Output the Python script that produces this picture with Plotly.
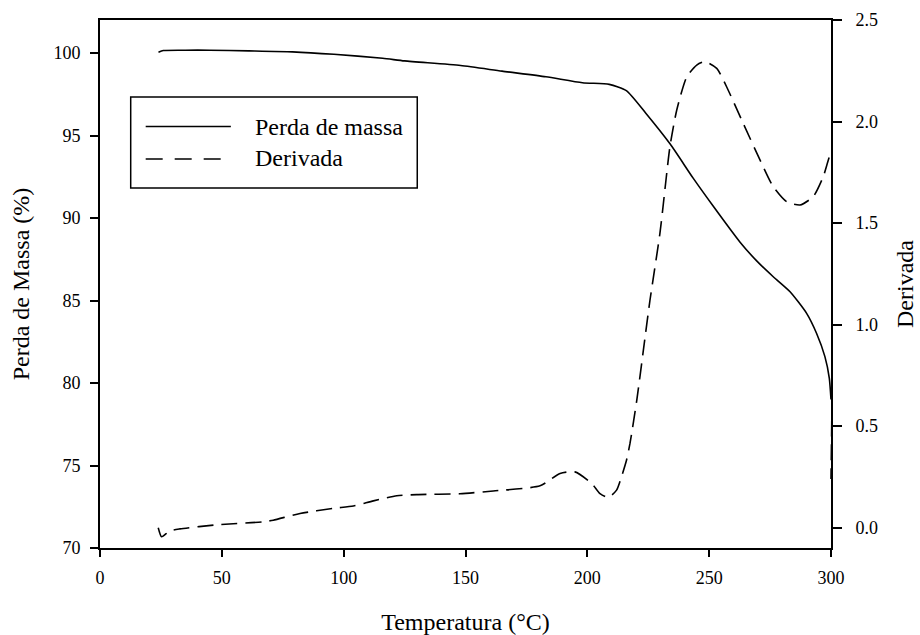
import plotly.graph_objects as go

# Mass loss curve (solid)
temp_mass = [24, 26, 35, 45, 61, 79, 96, 116, 125, 148, 165, 183, 198, 209, 216,
             224, 234, 243.5, 252, 262.6, 269.5, 276.3, 283.2, 290, 294.1, 297.5,
             299.3, 300]
mass = [100.05, 100.15, 100.17, 100.17, 100.13, 100.07, 99.92, 99.68, 99.52, 99.24,
        98.9, 98.56, 98.2, 98.1, 97.72, 96.35, 94.48, 92.4, 90.65, 88.55, 87.4,
        86.44, 85.53, 84.22, 83.0, 81.6, 80.3, 79.0]

# Derivative curve (dashed)
temp_deriv = [23.9, 25.3, 28.6, 32.8, 47.9, 67, 71.1, 82.1, 95.8, 104, 112.2, 121.8,
              130, 147.7, 161.4, 180.6, 188.8, 194.9, 201.8, 205.2, 208.6, 212,
              214, 216.1, 217.5, 220.3, 223, 225.7, 229.8, 233.9, 236.7, 240.8, 244.9,
              248.3, 253.1, 257.2, 264, 270.9, 276.3, 281.8, 287.3, 292.7, 296.8,
              300, 300]
deriv = [0.0, -0.045, -0.016, -0.006, 0.014, 0.029, 0.037, 0.070, 0.095, 0.107, 0.132,
         0.157, 0.163, 0.167, 0.181, 0.206, 0.267, 0.275, 0.218, 0.168, 0.149, 0.185,
         0.25, 0.333, 0.415, 0.628, 0.874, 1.12, 1.45, 1.876, 2.057, 2.22, 2.278,
         2.295, 2.262, 2.17, 1.99, 1.81, 1.679, 1.605, 1.589, 1.63, 1.728, 1.843, 0.24]

x_ticks = [0, 50, 100, 150, 200, 250, 300]
y1_ticks = [70, 75, 80, 85, 90, 95, 100]
y2_ticks = [0.0, 0.5, 1.0, 1.5, 2.0, 2.5]

FONT = "Liberation Serif"

fig = go.Figure()
fig.add_trace(go.Scatter(x=temp_mass, y=mass, mode="lines", name="Perda de massa",
                         line=dict(color="black", width=1.6, shape="spline", smoothing=0.6),
                         showlegend=False))
fig.add_trace(go.Scatter(x=temp_deriv, y=deriv, mode="lines", name="Derivada",
                         yaxis="y2",
                         line=dict(color="black", width=1.6, dash="16px,8px",
                                   shape="spline", smoothing=0.6),
                         showlegend=False))

# Legend drawn as decoration
lx0, lx1, ly0, ly1 = 0.042, 0.434, 0.682, 0.854
fig.add_shape(type="rect", xref="paper", yref="paper", x0=lx0, x1=lx1, y0=ly0, y1=ly1,
              line=dict(color="black", width=1.5), fillcolor="white", layer="above")
fig.add_shape(type="line", xref="paper", yref="paper", x0=0.0625, x1=0.179,
              y0=(548 - 126.5) / 528, y1=(548 - 126.5) / 528,
              line=dict(color="black", width=1.6))
fig.add_shape(type="line", xref="paper", yref="paper", x0=0.0625, x1=0.168,
              y0=(548 - 159) / 528, y1=(548 - 159) / 528,
              line=dict(color="black", width=1.6, dash="17px,12px"))
fig.add_annotation(xref="paper", yref="paper", x=(253 - 100) / 731, y=(548 - 127) / 528,
                   xanchor="left", yanchor="middle", showarrow=False,
                   text="Perda de massa", font=dict(family=FONT, size=24, color="black"))
fig.add_annotation(xref="paper", yref="paper", x=(253 - 100) / 731, y=(548 - 158) / 528,
                   xanchor="left", yanchor="middle", showarrow=False,
                   text="Derivada", font=dict(family=FONT, size=24, color="black"))

axis_common = dict(showgrid=False, zeroline=False, showline=True, linecolor="black",
                   linewidth=1.6, ticks="outside", tickcolor="black", tickwidth=1.5,
                   automargin=False,
                   tickfont=dict(family=FONT, size=18, color="black"))

fig.update_layout(
    width=920, height=635,
    margin=dict(l=100, r=89, t=20, b=87),
    paper_bgcolor="white", plot_bgcolor="white",
    xaxis=dict(range=[0, 300], tickvals=x_ticks, ticklen=7, mirror=True,
               ticklabelstandoff=6,
               title=dict(text="Temperatura (°C)", standoff=26,
                          font=dict(family=FONT, size=24, color="black")),
               **axis_common),
    yaxis=dict(range=[70, 102], tickvals=y1_ticks, ticklen=8, ticklabelstandoff=6,
               title=dict(text="Perda de Massa (%)", standoff=17,
                          font=dict(family=FONT, size=24, color="black")),
               **axis_common),
    yaxis2=dict(range=[-0.1, 2.5], tickvals=y2_ticks, tickformat=".1f", ticklen=9,
                ticklabelstandoff=10, overlaying="y", side="right",
                title=dict(text="Derivada", standoff=19,
                           font=dict(family=FONT, size=24, color="black")),
                **axis_common),
)

fig.write_html("out.html")
